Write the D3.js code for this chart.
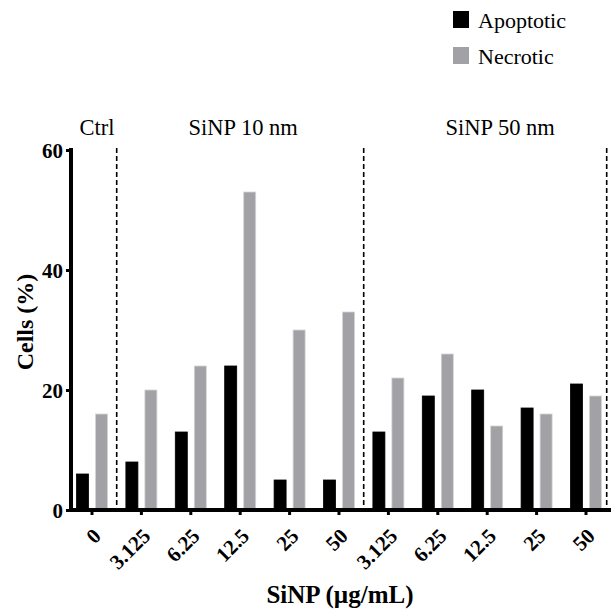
<!DOCTYPE html>
<html>
<head>
<meta charset="utf-8">
<script src="https://cdn.jsdelivr.net/npm/d3@7"></script>
<style>
  body { margin: 0; background: #fff; }
  svg text { font-family: "Liberation Serif", "DejaVu Serif", "Times New Roman", Times, serif !important; }
</style>
</head>
<body>
<svg id="svg" width="611" height="615"></svg>
<script>
// data
var doses = ["0", "3.125", "6.25", "12.5", "25", "50", "3.125", "6.25", "12.5", "25", "50"];
var apoptotic = [6, 8, 13, 24, 5, 5, 13, 19, 20, 17, 21];
var necrotic = [16, 20, 24, 53, 30, 33, 22, 26, 14, 16, 19];
var seriesNames = ["Apoptotic", "Necrotic"];
var seriesColors = ["#000000", "#a2a1a6"];
var yTicks = [0, 20, 40, 60];

var svg = d3.select("#svg");

var x = d3.scaleBand()
    .domain(d3.range(doses.length))
    .range([67.3, 610.7]);

var xs = d3.scaleBand()
    .domain(seriesNames)
    .range([-19, 19])
    .paddingInner(0.368)
    .paddingOuter(0.184);

var y = d3.scaleLinear().domain([0, 60]).range([510, 150]);

var color = d3.scaleOrdinal().domain(seriesNames).range(seriesColors);

// bars
var rows = doses.map(function(d, i) {
    return { i: i, values: [
        { key: "Apoptotic", v: apoptotic[i] },
        { key: "Necrotic", v: necrotic[i] }
    ] };
});

var groups = svg.selectAll("g.grp").data(rows).enter().append("g")
    .attr("class", "grp")
    .attr("transform", function(d) { return "translate(" + (x(d.i) + x.bandwidth() / 2) + ",0)"; });

groups.selectAll("rect").data(function(d) { return d.values; }).enter().append("rect")
    .attr("x", function(d) { return xs(d.key); })
    .attr("width", xs.bandwidth())
    .attr("y", function(d) { return y(d.v); })
    .attr("height", function(d) { return y(0) - y(d.v); })
    .attr("fill", function(d) { return color(d.key); })
    .attr("stroke", function(d) { return d.key === "Necrotic" ? "#d4d4d6" : "#000"; })
    .attr("stroke-width", 0.8);

// dashed separators
var sepX = [x(1), x(6), x.range()[1] - 4];
svg.selectAll("line.sep").data(sepX).enter().append("line")
    .attr("class", "sep")
    .attr("x1", function(d) { return d; })
    .attr("x2", function(d) { return d; })
    .attr("y1", 148)
    .attr("y2", 510)
    .attr("stroke", "#000")
    .attr("stroke-width", 1.6)
    .attr("stroke-dasharray", "5,3");

// y axis
var yAxis = d3.axisLeft(y).tickValues(yTicks).tickSize(5).tickPadding(3);
var gy = svg.append("g").attr("transform", "translate(71,0)").call(yAxis);
gy.select(".domain").attr("stroke-width", 4).attr("d", "M0,148V512");
gy.selectAll(".tick line").attr("stroke-width", 3);
gy.selectAll(".tick text")
    .attr("font-size", 21)
    .attr("font-weight", "bold")
    .attr("fill", "#000")
    .attr("dy", "0.35em");

// x axis
var xAxis = d3.axisBottom(x).tickSize(5).tickFormat(function(i) { return doses[i]; });
var gx = svg.append("g").attr("transform", "translate(0,510)").call(xAxis);
gx.select(".domain").attr("stroke-width", 4).attr("d", "M69,0H611");
gx.selectAll(".tick line").attr("stroke-width", 3);
gx.selectAll(".tick text")
    .attr("font-size", 21)
    .attr("font-weight", "bold")
    .attr("fill", "#000")
    .attr("text-anchor", "end")
    .attr("dy", "0.35em")
    .attr("transform", "translate(5,22) rotate(-45)")
    .attr("y", 0)
    .attr("x", 0);

// axis titles
svg.append("text")
    .attr("transform", "translate(33,322) rotate(-90)")
    .attr("text-anchor", "middle")
    .attr("font-size", 24)
    .attr("font-weight", "bold")
    .text("Cells (%)");

svg.append("text")
    .attr("x", 340)
    .attr("y", 603)
    .attr("text-anchor", "middle")
    .attr("font-size", 25)
    .attr("font-weight", "bold")
    .text("SiNP (\u00b5g/mL)");

// group labels
var groupLabels = ["Ctrl", "SiNP 10 nm", "SiNP 50 nm"];
var groupLabelX = [x(0) + x.bandwidth() / 2 + 5, x(3) + x.bandwidth() / 2 + 3, x(8) + x.bandwidth() / 2 + 13];
svg.selectAll("text.glab").data(groupLabels).enter().append("text")
    .attr("class", "glab")
    .attr("x", function(d, i) { return groupLabelX[i]; })
    .attr("y", 135)
    .attr("text-anchor", "middle")
    .attr("font-size", 22.5)
    .text(function(d) { return d; });

// legend
var leg = svg.selectAll("g.leg").data(seriesNames).enter().append("g")
    .attr("class", "leg")
    .attr("transform", function(d, i) { return "translate(453," + (11 + i * 36) + ")"; });
leg.append("rect").attr("width", 16).attr("height", 17).attr("fill", function(d) { return color(d); });
leg.append("text").attr("x", 25).attr("y", 17).attr("font-size", 22).text(function(d) { return d; });
</script>
</body>
</html>
